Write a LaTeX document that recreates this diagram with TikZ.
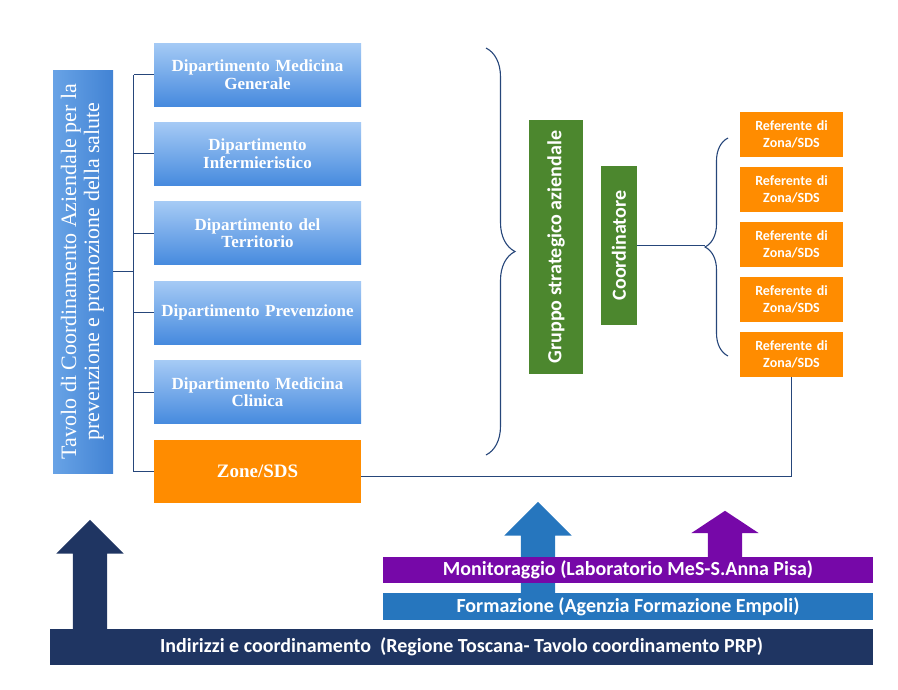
\documentclass[tikz,border=0pt]{standalone}
\usepackage{fontspec}
\setmainfont{Liberation Serif}
\newfontfamily\calibfont{Carlito}
\usepackage{xcolor}
\usepackage{tikz}
\usetikzlibrary{positioning}
\usetikzlibrary{shapes.arrows}
\usetikzlibrary{decorations.pathreplacing}
\definecolor{deptTop}{RGB}{165,202,245}
\definecolor{deptBot}{RGB}{70,138,222}
\definecolor{tavLeft}{RGB}{104,163,230}
\definecolor{tavRight}{RGB}{66,131,212}
\definecolor{zoneOrange}{RGB}{255,140,0}
\definecolor{gruppoGreen}{RGB}{76,135,46}
\definecolor{linkBlue}{RGB}{38,70,122}
\definecolor{navyBar}{RGB}{31,53,98}
\definecolor{formBlue}{RGB}{38,118,190}
\definecolor{monPurple}{RGB}{118,8,168}
\tikzset{
    cnode/.style = {align=center, inner sep=0pt, text centered, white},
    tav_node/.style = {cnode, rectangle, left color=tavLeft, right color=tavRight, minimum width=60pt, minimum height=403pt, font=\fontsize{22}{23}\selectfont},
    dept_node/.style = {cnode, rectangle, top color=deptTop, bottom color=deptBot, minimum width=207pt, minimum height=63pt, text width=205pt, font=\bfseries\fontsize{17}{17.5}\selectfont},
    zone_node/.style = {cnode, rectangle, fill=zoneOrange, minimum width=207pt, minimum height=63pt, font=\bfseries\fontsize{19}{20}\selectfont},
    green_node/.style = {cnode, rectangle, fill=gruppoGreen, font=\calibfont\bfseries\fontsize{20}{22}\selectfont},
    ref_node/.style = {cnode, rectangle, fill=zoneOrange, minimum width=103pt, minimum height=45pt, text width=100pt, font=\calibfont\bfseries\fontsize{14}{17}\selectfont},
    band_node/.style = {cnode, rectangle, minimum width=490pt, font=\calibfont\bfseries\fontsize{20}{22}\selectfont},
    up_arrow/.style = {single arrow, inner sep=17pt, minimum width=67pt, single arrow head extend=16.5pt, single arrow tip angle=90, shape border rotate=90, anchor=tail},
    link/.style = {draw=linkBlue, line width=1.1pt}
}
\begin{document}
\begin{tikzpicture}[x=1pt, y=-1pt]
    \useasboundingbox (0,0) rectangle (898,689);

    \node [tav_node] (tav) at (83,271.5) {\rotatebox{90}{\begin{tabular}{@{}c@{}}Tavolo di Coordinamento Aziendale per la\\prevenzione e promozione della salute\end{tabular}}};

    \node [dept_node] (d1) at (257.5,74.5) {Dipartimento Medicina\\Generale};
    \node [dept_node, below=16pt of d1] (d2) {Dipartimento\\Infermieristico};
    \node [dept_node, below=16pt of d2] (d3) {Dipartimento del\\Territorio};
    \node [dept_node, below=16pt of d3] (d4) {Dipartimento Prevenzione};
    \node [dept_node, below=16pt of d4] (d5) {Dipartimento Medicina\\Clinica};
    \node [zone_node, below=16pt of d5] (zone) {Zone/SDS};

    \coordinate (fork) at (133.5,271.5);
    \draw [link] (tav.east) -- (fork);
    \draw [link] (d1.west -| fork) -- (zone.west -| fork);
    \draw [link] (d1.west) -- (d1.west -| fork)
                 (d2.west) -- (d2.west -| fork)
                 (d3.west) -- (d3.west -| fork)
                 (d4.west) -- (d4.west -| fork)
                 (d5.west) -- (d5.west -| fork)
                 (zone.west) -- (zone.west -| fork);

    \coordinate (brace top) at (486,48);
    \coordinate (brace bottom) at (486,455);
    \draw [link, decorate, decoration={brace, amplitude=29pt}] (brace top) -- (brace bottom);

    \node [green_node, minimum width=54pt, minimum height=254pt] (gruppo) at (556,247) {\rotatebox{90}{Gruppo strategico aziendale}};
    \node [green_node, minimum width=36pt, minimum height=159pt] (coord) at (619,245.5) {\rotatebox{90}{Coordinatore}};

    \node [ref_node] (r1) at (791.5,134.5) {Referente di\\Zona/SDS};
    \node [ref_node, below=9.5pt of r1] (r2) {Referente di\\Zona/SDS};
    \node [ref_node, below=9.5pt of r2] (r3) {Referente di\\Zona/SDS};
    \node [ref_node, below=9.5pt of r3] (r4) {Referente di\\Zona/SDS};
    \node [ref_node, below=9.5pt of r4] (r5) {Referente di\\Zona/SDS};

    \coordinate (ref brace bottom) at (728,356);
    \coordinate (ref brace top) at (728,138);
    \coordinate (ref brace tip) at (705,247);
    \draw [link, decorate, decoration={brace, amplitude=23pt}] (ref brace bottom) -- (ref brace top);
    \draw [link] (coord.east) -- (coord.east -| ref brace tip);
    \draw [link] ([yshift=-5pt]zone.east) -| (r5.south);

    \node [up_arrow, fill=navyBar, minimum height=109pt] (indir arrow) at (90,629) {};
    \node [up_arrow, fill=formBlue, minimum height=91pt] (form arrow) at (538,593) {};
    \node [up_arrow, fill=monPurple, minimum height=46pt, single arrow tip angle=113] (mon arrow) at (725,557) {};

    \node [band_node, fill=monPurple, minimum height=26pt] (mon) at (628,570) {Monitoraggio (Laboratorio MeS-S.Anna Pisa)};
    \node [band_node, fill=formBlue, minimum height=27pt] (form) at (628,606.5) {Formazione (Agenzia Formazione Empoli)};
    \node [band_node, fill=navyBar, minimum width=823pt, minimum height=36pt] (indir) at (461.5,647) {Indirizzi e coordinamento~ (Regione Toscana- Tavolo coordinamento PRP)};
\end{tikzpicture}
\end{document}
